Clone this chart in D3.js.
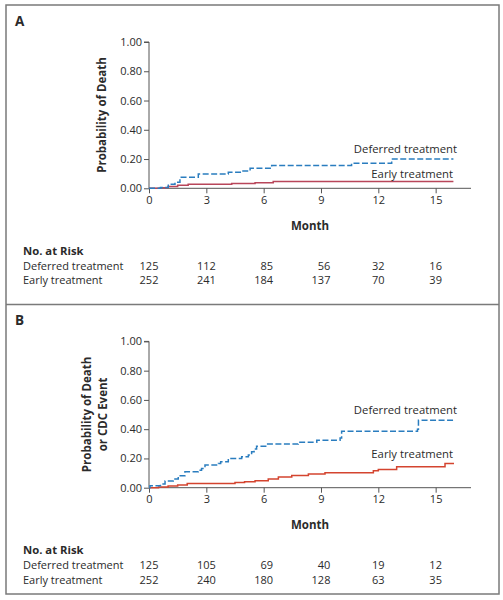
<!DOCTYPE html>
<html><head><meta charset="utf-8">
<script src="https://cdn.jsdelivr.net/npm/d3@7"></script>
<style>
html,body{margin:0;padding:0;background:#fff;}
svg text{font-family:"Open Sans",sans-serif;fill:#2b2b2b;}
</style></head>
<body>
<svg id="c" width="503" height="600"></svg>
<script>
// ---- data ----
const monthTicks = [0, 3, 6, 9, 12, 15];
const probTicks = [0, 0.2, 0.4, 0.6, 0.8, 1.0];
const groups = ["Deferred treatment", "Early treatment"];

// Panel A: Probability of Death
const deferredA = [[0,0],[0.6,0.005],[1.01,0.027],[1.36,0.041],[1.62,0.075],[2.58,0.098],[4.15,0.109],[4.85,0.118],[5.29,0.137],[6.42,0.156],[10.6,0.171],[12.7,0.20],[15.93,0.20]];
const earlyA = [[0,0],[0.6,0.004],[1.0,0.012],[1.5,0.02],[2.05,0.027],[4.33,0.033],[5.55,0.038],[6.5,0.047],[15.93,0.047]];
const riskDeferredA = [125, 112, 85, 56, 32, 16];
const riskEarlyA = [252, 241, 184, 137, 70, 39];

// Panel B: Probability of Death or CDC Event
const deferredB = [[0,0],[0.05,0.014],[0.6,0.025],[0.84,0.046],[1.27,0.06],[1.53,0.082],[1.88,0.109],[2.58,0.12],[2.75,0.132],[2.93,0.155],[3.63,0.165],[3.75,0.177],[4.15,0.2],[4.85,0.212],[5.2,0.223],[5.37,0.245],[5.5,0.265],[5.63,0.284],[6.16,0.298],[7.81,0.31],[8.78,0.325],[10.0,0.34],[10.08,0.386],[14.05,0.40],[14.1,0.461],[15.97,0.461]];
const earlyB = [[0,0],[0.5,0.005],[1.0,0.012],[1.5,0.018],[2.0,0.028],[4.5,0.035],[5.0,0.04],[5.55,0.048],[6.24,0.059],[6.77,0.073],[7.47,0.084],[8.34,0.093],[9.21,0.102],[11.74,0.116],[12.0,0.125],[12.96,0.143],[15.49,0.166],[15.96,0.166]];
const riskDeferredB = [125, 105, 69, 40, 19, 12];
const riskEarlyB = [252, 240, 180, 128, 63, 35];

// ---- drawing ----
const svg = d3.select("#c");
const FS = 11;
const blue = "#2a7dbf";

svg.append("rect").attr("x", 6).attr("y", 5).attr("width", 493).attr("height", 589)
  .attr("fill", "none").attr("stroke", "#7a7a7a").attr("stroke-width", 1.5);
svg.append("line").attr("x1", 6).attr("x2", 499).attr("y1", 304.5).attr("y2", 304.5)
  .attr("stroke", "#7a7a7a").attr("stroke-width", 1.5);

function panel(oy, letter, ylabLines, deferred, early, redColor, riskD, riskE, labDy, labEy) {
  const g = svg.append("g").attr("transform", `translate(0,${oy})`);
  const x = d3.scaleLinear().domain([0, 16.85]).range([149, 471]);
  const y = d3.scaleLinear().domain([0, 1]).range([188.3, 42]);

  g.append("text").attr("x", 15).attr("y", 25.5).attr("font-size", 13.5).attr("font-weight", 700).text(letter);

  // y axis
  const ya = g.append("g").attr("transform", "translate(149,0)")
    .call(d3.axisLeft(y).tickValues(probTicks).tickFormat(d3.format(".2f")).tickSize(5).tickPadding(2));
  ya.select(".domain").attr("stroke", "#555").attr("d", `M-5,${y(1)}H0V${y(0)}`);
  ya.selectAll(".tick line").attr("stroke", "#555");
  ya.selectAll("text").attr("font-size", FS).attr("font-family", "Open Sans").attr("fill", "#2b2b2b");

  // x axis
  const xa = g.append("g").attr("transform", `translate(0,${y(0)})`)
    .call(d3.axisBottom(x).tickValues(monthTicks).tickSize(5).tickPadding(3));
  xa.select(".domain").attr("stroke", "#555").attr("d", `M${x(0)},0H${x.range()[1]}`);
  xa.selectAll(".tick line").attr("stroke", "#555");
  xa.selectAll("text").attr("font-size", FS).attr("font-family", "Open Sans").attr("fill", "#2b2b2b");

  g.append("text").attr("x", 310).attr("y", 230).attr("text-anchor", "middle")
    .attr("font-size", FS + 0.5).attr("font-weight", 700).text("Month");

  // y label
  const n = ylabLines.length;
  ylabLines.forEach((t, i) => {
    const bx = n === 1 ? 105.5 : [90.5, 107][i];
    g.append("text").attr("transform", `translate(${bx},115) rotate(-90)`)
      .attr("text-anchor", "middle").attr("font-size", FS + 0.5).attr("font-weight", 700).text(t);
  });

  const line = d3.line().x(d => x(d[0])).y(d => y(d[1])).curve(d3.curveStepAfter);
  g.append("path").datum(early).attr("d", line).attr("fill", "none")
    .attr("stroke", redColor).attr("stroke-width", 1.5);
  g.append("path").datum(deferred).attr("d", line).attr("fill", "none")
    .attr("stroke", blue).attr("stroke-width", 1.5).attr("stroke-dasharray", "6,2.5");

  g.append("text").attr("x", 457).attr("y", labDy).attr("text-anchor", "end").attr("font-size", FS + 0.3).text(groups[0]);
  g.append("text").attr("x", 453).attr("y", labEy).attr("text-anchor", "end").attr("font-size", FS + 0.3).text(groups[1]);

  // risk table
  g.append("text").attr("x", 23).attr("y", 254.5).attr("font-size", FS + 0.3).attr("font-weight", 700).text("No. at Risk");
  const rows = [[groups[0], riskD, 269.5], [groups[1], riskE, 284.3]];
  rows.forEach(r => g.append("text").attr("x", 23).attr("y", r[2]).attr("font-size", FS).text(r[0]));
  monthTicks.forEach((m, i) => {
    const ts = rows.map(r => g.append("text").attr("y", r[2]).attr("font-size", FS).attr("text-anchor", "end").text(r[1][i]));
    const w = d3.max(ts, t => t.node().getComputedTextLength());
    ts.forEach(t => t.attr("x", x(m) + w / 2));
  });
}

panel(0, "A", ["Probability of Death"], deferredA, earlyA, "#b8465a", riskDeferredA, riskEarlyA, 153, 177.5);
panel(299.4, "B", ["Probability of Death", "or CDC Event"], deferredB, earlyB, "#d4442f", riskDeferredB, riskEarlyB, 114.5, 159);
</script>
</body></html>
